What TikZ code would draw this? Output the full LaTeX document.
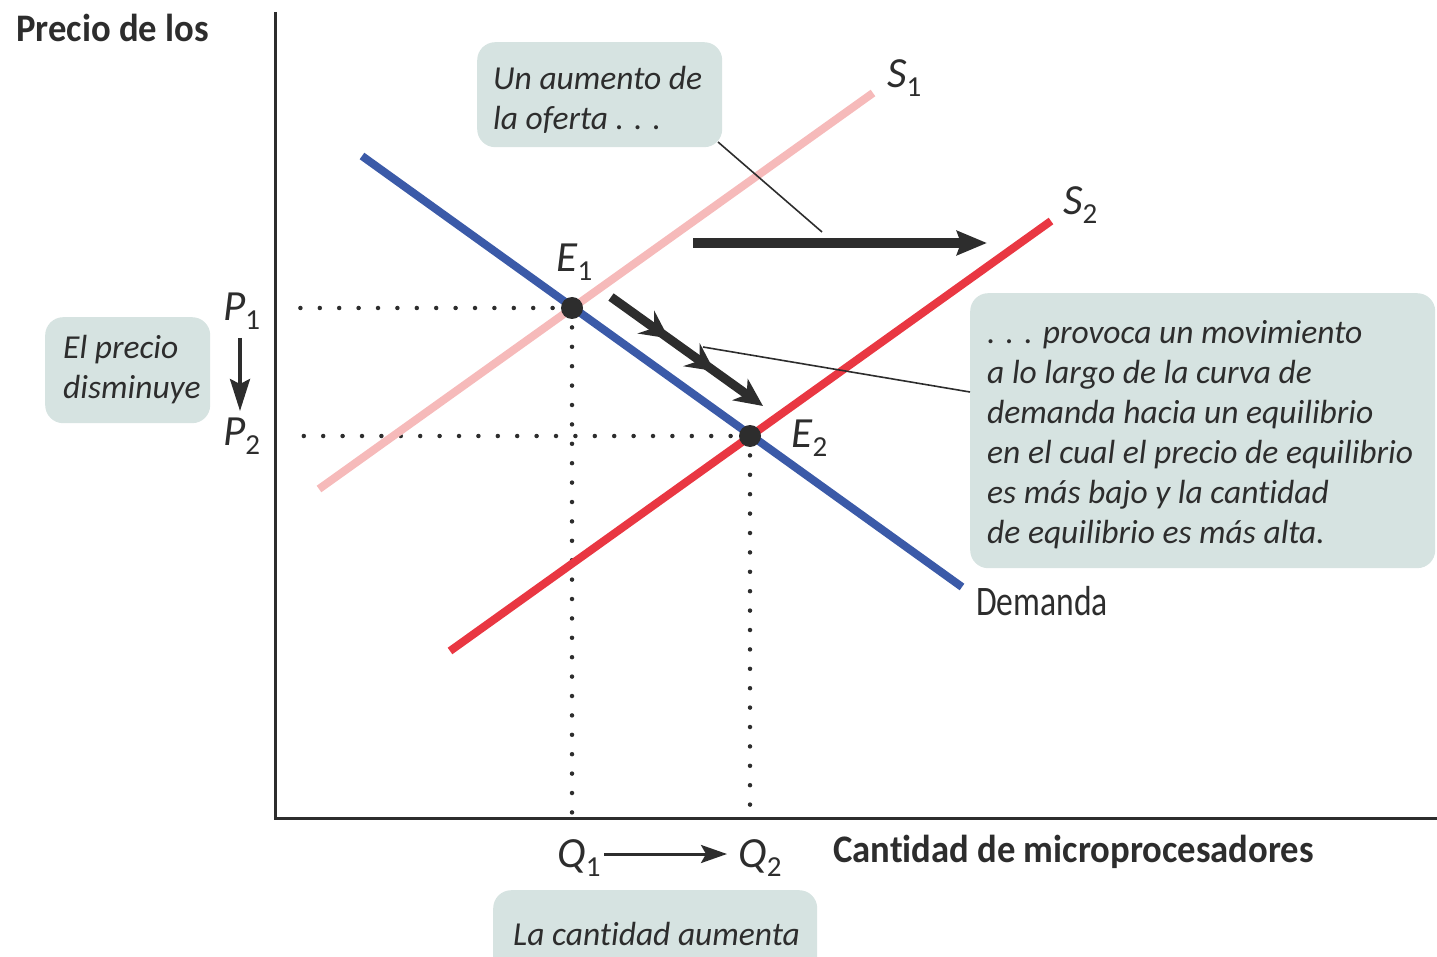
\documentclass[tikz,border=0pt]{standalone}
\usepackage{fontspec}
\setmainfont[Ligatures=CommonOff]{Carlito}
\newfontfamily\condfont[FakeStretch=0.8,Ligatures=CommonOff]{Carlito}
\newfontfamily\axisfont[FakeStretch=0.94,Ligatures=CommonOff]{Carlito}
\usetikzlibrary{arrows.meta,decorations.markings}
\definecolor{ink}{RGB}{45,45,45}
\definecolor{boxfill}{RGB}{214,227,225}
\definecolor{demblue}{RGB}{59,90,168}
\definecolor{supred}{RGB}{233,55,66}
\definecolor{suppink}{RGB}{246,186,186}
\newcommand\sublab[2]{\textit{#1}\raisebox{-9pt}{\fontsize{29}{29}\selectfont #2}}
\tikzset{
  curve/.style={line width=8pt},
  axisline/.style={ink,line width=3pt},
  dotline/.style={ink,line width=4.5pt,line cap=round,dash pattern=on 0pt off 19.4pt},
  callout/.style={fill=boxfill,rounded corners=18pt,inner sep=0pt,anchor=north west},
  calltext/.style={ink,inner sep=0pt,anchor=north west,align=left,font=\fontsize{33.5}{40}\selectfont\itshape},
  leader/.style={ink,line width=1.6pt},
  mathlab/.style={ink,inner sep=0pt,anchor=base west,font=\fontsize{43}{43}\selectfont},
  axislab/.style={ink,inner sep=0pt,anchor=base west,font=\axisfont\bfseries\fontsize{39}{39}\selectfont},
  eqdot/.style={circle,fill=ink,minimum size=22pt,inner sep=0pt},
  midhead/.tip={Stealth[length=28pt,width=28pt,inset=10pt]},
}
\begin{document}
\begin{tikzpicture}[x=1pt,y=-1pt]
\useasboundingbox (0,0) rectangle (1437,957);
% callout boxes
\node[callout,minimum width=245pt,minimum height=105pt] (c1) at (477,42) {};
\node[callout,minimum width=465pt,minimum height=275pt] (c2) at (970,293) {};
\node[callout,minimum width=165pt,minimum height=106pt] (c3) at (45,317) {};
\node[callout,minimum width=324pt,minimum height=90pt] (c4) at (493,890) {};
% axes
\coordinate (ytop) at (275,12);
\coordinate (orig) at (275,818);
\coordinate (xend) at (1437,818);
\draw[axisline] (ytop) -- (orig) -- (xend);
% curve end points
\coordinate (s1a) at (319,489); \coordinate (s1b) at (873,93);
\coordinate (s2a) at (450,651); \coordinate (s2b) at (1051,221);
\coordinate (da) at (362,156); \coordinate (db) at (962,587);
\coordinate (p1) at (287,308); \coordinate (p2) at (287,436);
\coordinate (q1) at (572,818); \coordinate (q2) at (750,818);
% dotted guides
\draw[dotline] (572,308) -- (p1);
\draw[dotline] (750,436) -- (p2);
\draw[dotline] (572,308) -- (q1);
\draw[dotline] (750,436) -- (q2);
% curves
\draw[curve,suppink] (s1a) -- (s1b);
\draw[curve,supred] (s2a) -- (s2b);
\draw[curve,demblue] (da) -- (db);
% equilibria
\node[eqdot] (E1) at (572,308) {};
\node[eqdot] (E2) at (750,436) {};
% shift arrow
\coordinate (sh1) at (693,243); \coordinate (sh2) at (987,243);
\draw[ink,line width=10pt,-{Stealth[length=30pt,width=24pt,inset=4pt]}] (sh1) -- (sh2);
% movement arrow
\coordinate (mv1) at (611,297); \coordinate (mv2) at (763,406);
\draw[ink,line width=9pt,
  postaction={decorate},
  decoration={markings,
    mark=at position 0.38 with {\arrow{midhead}},
    mark=at position 0.68 with {\arrow{midhead}}},
  -{Stealth[length=28pt,width=26pt,inset=8pt]}] (mv1) -- (mv2);
% leaders
\coordinate (l1a) at (718,142); \coordinate (l1b) at (822,232);
\draw[leader] (l1a) -- (l1b);
\coordinate (l2a) at (703,347); \coordinate (l2b) at (970,392);
\draw[leader] (l2a) -- (l2b);
% small arrows
\coordinate (pa1) at (240,338); \coordinate (pa2) at (240,411);
\draw[ink,line width=3.5pt,-{Stealth[length=32pt,width=20pt,inset=5pt]}] (pa1) -- (pa2);
\coordinate (qa1) at (604,854); \coordinate (qa2) at (727,854);
\draw[ink,line width=3pt,-{Stealth[length=26pt,width=18pt,inset=5pt]}] (qa1) -- (qa2);
% labels
\node[mathlab] (S1) at (887,88) {\sublab{S}{1}};
\node[mathlab] (S2) at (1063,215) {\sublab{S}{2}};
\node[mathlab] (E1l) at (556,272) {\sublab{E}{1}};
\node[mathlab] (E2l) at (791,447) {\sublab{E}{2}};
\node[mathlab] (P1) at (223,321) {\sublab{P}{1}};
\node[mathlab] (P2) at (223,445) {\sublab{P}{2}};
\node[mathlab] (Q1) at (557,867) {\sublab{Q}{1}};
\node[mathlab] (Q2) at (738,867) {\sublab{Q}{2}};
\node[ink,inner sep=0pt,anchor=base west,font=\condfont\fontsize{42}{42}\selectfont] (dem) at (976,615) {Demanda};
\node[axislab] (ylab) at (16,42) {Precio de los};
\node[axislab] (xlab) at (833,862) {Cantidad de microprocesadores};
% callout texts
\node[calltext] (t1) at (493,61) {\strut Un aumento de\\\strut la oferta . . .};
\node[calltext] (t2) at (987,315) {\strut . . . provoca un movimiento\\\strut a lo largo de la curva de\\\strut demanda hacia un equilibrio\\\strut en el cual el precio de equilibrio\\\strut es más bajo y la cantidad\\\strut de equilibrio es más alta.};
\node[calltext] (t3) at (63,330) {\strut El precio\\\strut disminuye};
\node[calltext,anchor=base west] (t4) at (513,945) {La cantidad aumenta};
\end{tikzpicture}
\end{document}
